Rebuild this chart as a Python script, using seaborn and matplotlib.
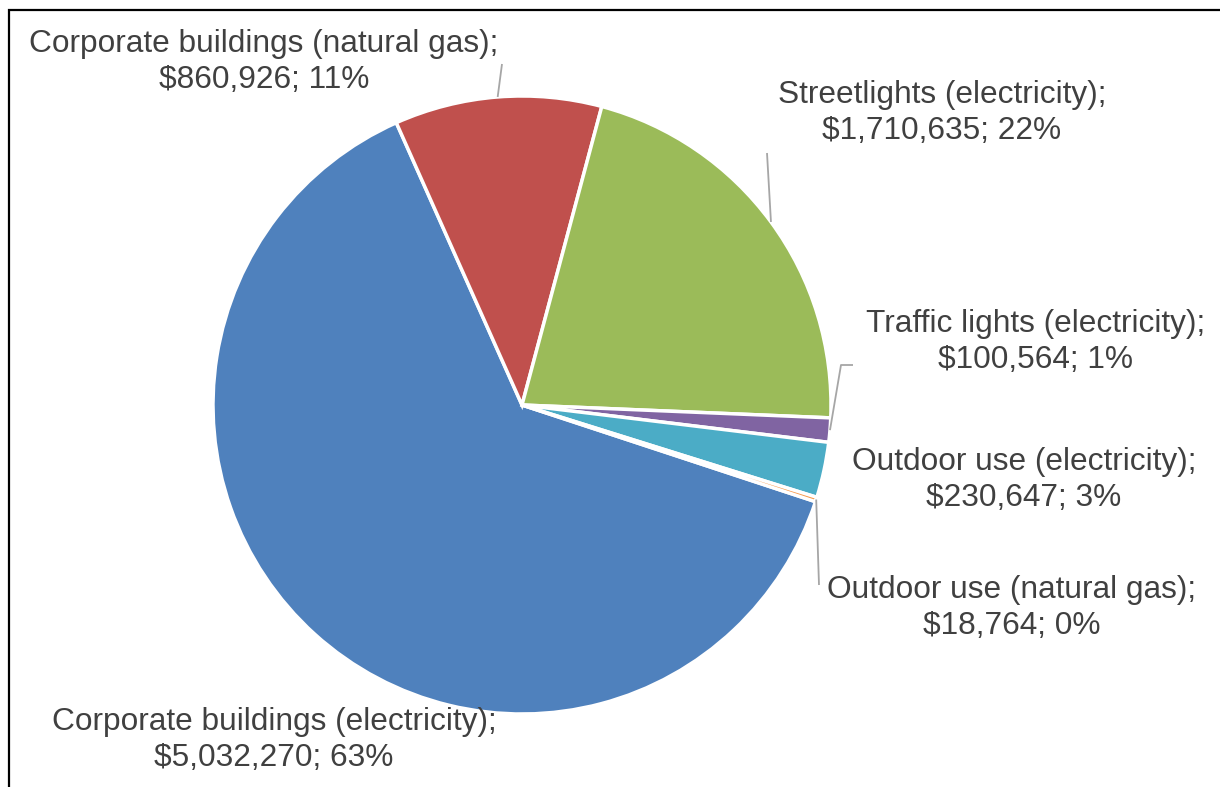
import numpy as np
import matplotlib
matplotlib.use("Agg")
import matplotlib.pyplot as plt
import seaborn as sns

# Energy cost by end use
categories = [
    "Corporate buildings (electricity)",
    "Corporate buildings (natural gas)",
    "Streetlights (electricity)",
    "Traffic lights (electricity)",
    "Outdoor use (electricity)",
    "Outdoor use (natural gas)",
]
costs = [5032270, 860926, 1710635, 100564, 230647, 18764]
colors = ["#4F81BD", "#C0504D", "#9BBB59", "#8064A2", "#4BACC6", "#F79646"]

sns.set_theme(style="white")
plt.rcParams["font.family"] = ["Liberation Sans", "DejaVu Sans"]

W, H = 1220, 787
fig = plt.figure(figsize=(W / 100, H / 100), dpi=100)
ax = fig.add_axes([0, 0, 1, 1])

cx, cy, R = 522, H - 405, 309
total = sum(costs)
fracs = [c / total for c in costs]
# first slice begins so that the natural-gas wedge starts just left of 12 o'clock
start_cw = -24.0 - fracs[0] * 360.0
wedges, _ = ax.pie(
    costs, colors=colors, center=(cx, cy), radius=R,
    startangle=90 - start_cw, counterclock=False,
    wedgeprops=dict(edgecolor="white", linewidth=2.5),
)
ax.set_xlim(0, W)
ax.set_ylim(0, H)
ax.set_aspect("equal")
ax.axis("off")

# label text blocks (centre positions, y measured from the top)
label_pos = [(264, 62), (942, 113)]
label_pos = [(274, 740)] + label_pos + [(1036, 342), (1024, 480), (1012, 608)]
# outer ends of leader lines (None where no leader is drawn)
leader_out = [None, [(502, 64)], [(767, 153)], [(853, 365), (841, 365)], None, [(819, 585)]]

for i, (cat, val, fr) in enumerate(zip(categories, costs, fracs)):
    lx, ly = label_pos[i]
    ax.text(lx, H - ly, f"{cat};\n${val:,}; {round(fr * 100):.0f}%",
            ha="center", va="center", fontsize=22.8, color="#404040",
            linespacing=1.25)
    if leader_out[i] is not None:
        w = wedges[i]
        mid = np.deg2rad((w.theta1 + w.theta2) / 2)
        inner = (cx + R * np.cos(mid), cy + R * np.sin(mid))
        pts = [(x, H - y) for x, y in leader_out[i]] + [inner]
        xs, ys = zip(*pts)
        ax.plot(xs, ys, color="#A6A6A6", linewidth=1.3, solid_capstyle="butt")

# chart frame (extends past the right and bottom edges)
ax.plot([9, 9, W + 5], [-5, H - 10, H - 10], color="black", linewidth=1.6,
        solid_joinstyle="miter", clip_on=False)

fig.savefig("out.png", dpi=100, facecolor="white")
